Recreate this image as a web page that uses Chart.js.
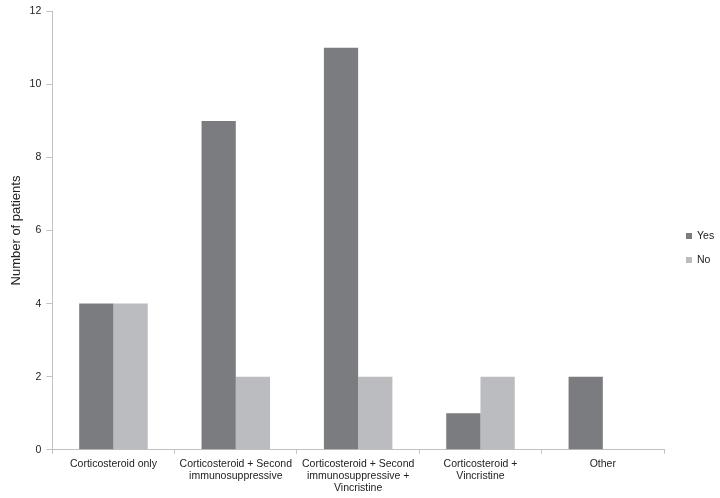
<!DOCTYPE html>
<html>
<head>
<meta charset="utf-8">
<script src="https://cdn.jsdelivr.net/npm/chart.js@4.4.1/dist/chart.umd.min.js"></script>
<style>
  html, body { margin:0; padding:0; background:#fff; }
  #wrap { width:720px; height:498px; position:relative; }
</style>
</head>
<body>
<div id="wrap"><canvas id="chart"></canvas></div>
<script>
// ─── data ────────────────────────────────────────────────────────────────────
const categories = [
  'Corticosteroid only',
  ['Corticosteroid + Second', 'immunosuppressive'],
  ['Corticosteroid + Second', 'immunosuppressive +', 'Vincristine'],
  ['Corticosteroid +', 'Vincristine'],
  'Other'
];
const yesValues = [4, 9, 11, 1, 2];
const noValues  = [4, 2, 2, 2, 0];
const seriesNames = ['Yes', 'No'];
const COLORS = ['#7b7c80', '#bbbcc0'];
const FONT = "'Liberation Sans', Arial, Helvetica, sans-serif";
const AXIS = '#c2c2c2';

// ── legend drawn at the far right, as in the figure ─────────────────────────
const sideLegend = {
  id: 'sideLegend',
  afterDraw(chart) {
    const ctx = chart.ctx;
    ctx.save();
    ctx.font = '10.5px ' + FONT;
    ctx.textBaseline = 'middle';
    chart.data.datasets.forEach((ds, i) => {
      const y = 236 + i * 24;
      ctx.fillStyle = ds.backgroundColor;
      ctx.fillRect(686, y - 3, 6, 6);
      ctx.fillStyle = '#222';
      ctx.fillText(ds.label, 697, y + 0.5);
    });
    ctx.restore();
  }
};

new Chart(document.getElementById('chart'), {
  type: 'bar',
  data: {
    labels: categories,
    datasets: [
      { label: seriesNames[0], data: yesValues, backgroundColor: COLORS[0] },
      { label: seriesNames[1], data: noValues,  backgroundColor: COLORS[1] }
    ]
  },
  options: {
    responsive: true,
    maintainAspectRatio: false,
    animation: false,
    layout: { padding: { top: 9, right: 56, left: 9, bottom: 0 } },
    plugins: { legend: { display: false }, tooltip: { enabled: false } },
    datasets: { bar: { categoryPercentage: 0.56, barPercentage: 1.0 } },
    scales: {
      x: {
        grid: { drawOnChartArea: false, offset: true, tickLength: 4, color: AXIS },
        border: { color: AXIS },
        ticks: { color: '#222', font: { family: FONT, size: 10.5, lineHeight: 1.15 }, maxRotation: 0, autoSkip: false, padding: 4 }
      },
      y: {
        min: 0, max: 12,
        grid: { drawOnChartArea: false, tickLength: 6, color: AXIS },
        border: { color: AXIS },
        ticks: { stepSize: 2, color: '#222', font: { family: FONT, size: 10.5 }, padding: 5 },
        title: { display: true, text: 'Number of patients', color: '#222', font: { family: FONT, size: 13 }, padding: { top: 0, bottom: 0 } }
      }
    }
  },
  plugins: [sideLegend]
});
</script>
</body>
</html>
